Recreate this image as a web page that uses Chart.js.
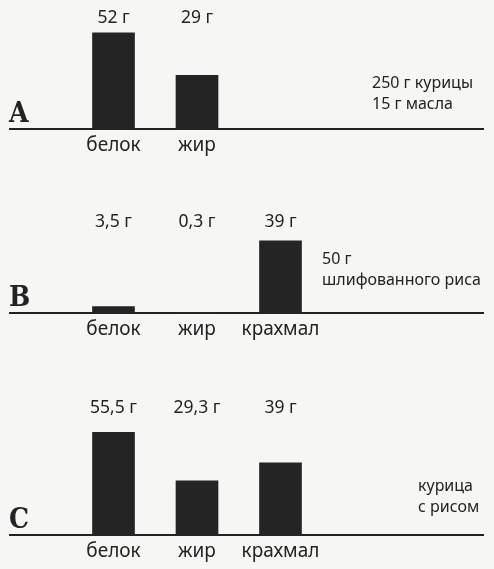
<!DOCTYPE html>
<html>
<head>
<meta charset="utf-8">
<script src="https://cdn.jsdelivr.net/npm/chart.js@4/dist/chart.umd.min.js"></script>
<style>
  html, body { margin: 0; padding: 0; background: #f6f6f4; }
  #page { position: relative; width: 494px; height: 569px; overflow: hidden; }
  .panel { position: absolute; left: 0; width: 494px; }
</style>
</head>
<body>
<div id="page">
  <div class="panel" style="top:0;height:190px"><canvas id="chartA"></canvas></div>
  <div class="panel" style="top:190px;height:190px"><canvas id="chartB"></canvas></div>
  <div class="panel" style="top:380px;height:189px"><canvas id="chartC"></canvas></div>
</div>
<script>
// Nutrients per portion, grams
const categories = ['белок', 'жир', 'крахмал'];
const panelLetters = ['A', 'B', 'C'];
const valuesA = [52, 29];
const valuesB = [3.5, 0.3, 39];
const valuesC = [55.5, 29.3, 39];
const notesA = ['250 г курицы', '15 г масла'];
const notesB = ['50 г', 'шлифованного риса'];
const notesC = ['курица', 'с рисом'];

const INK = '#232323';
const SANS = '"Noto Sans", "Open Sans", sans-serif';
const Y_MAX = 60;          // common vertical scale for all three panels
const PLOT_H = 111;        // chart-area height in px
const SLOT = 83.5;         // width of one category slot in px
const FIRST_CENTER = 113.5;

function fmt(v) {
  return String(v).replace('.', ',') + ' г';
}

// Long baseline running under the whole panel
const baseline = {
  id: 'baseline',
  beforeDatasetsDraw(chart) {
    const { ctx, scales } = chart;
    const y = scales.y.getPixelForValue(0);
    ctx.save();
    ctx.strokeStyle = INK;
    ctx.lineWidth = 2;
    ctx.beginPath();
    ctx.moveTo(9, y);
    ctx.lineTo(484, y);
    ctx.stroke();
    ctx.restore();
  }
};

// Value captions, panel letter and side note
const annotations = {
  id: 'annotations',
  afterDatasetsDraw(chart, args, opts) {
    const { ctx, chartArea, scales } = chart;
    const x = scales.x;
    ctx.save();
    ctx.fillStyle = INK;
    ctx.textAlign = 'center';
    ctx.textBaseline = 'middle';
    ctx.font = '17.5px ' + SANS;
    chart.data.datasets[0].data.forEach((v, i) => {
      ctx.fillText(fmt(v), x.getPixelForValue(i), opts.valueY);
    });
    ctx.font = 'bold 28px "DejaVu Serif Condensed", "DejaVu Serif", serif';
    ctx.textAlign = 'left';
    ctx.textBaseline = 'alphabetic';
    ctx.fillText(opts.letter, 9, chartArea.bottom - 7);
    ctx.font = '16px ' + SANS;
    ctx.textBaseline = 'middle';
    opts.note.forEach((line, i) => {
      ctx.fillText(line, opts.noteX, opts.noteY + i * 21);
    });
    ctx.restore();
  }
};

function makePanel(id, values, letter, note, geom) {
  const canvas = document.getElementById(id);
  const h = canvas.parentNode.clientHeight;
  const left = FIRST_CENTER - SLOT / 2;
  const right = 494 - (left + values.length * SLOT);
  return new Chart(canvas, {
    type: 'bar',
    data: {
      labels: categories.slice(0, values.length),
      datasets: [{
        data: values,
        backgroundColor: '#242424',
        borderWidth: 0,
        barThickness: 42
      }]
    },
    options: {
      responsive: true,
      maintainAspectRatio: false,
      animation: false,
      events: [],
      layout: { padding: { top: geom.baseline - PLOT_H, left: left, right: right, bottom: 0 } },
      plugins: {
        legend: { display: false },
        tooltip: { enabled: false },
        annotations: { letter, note, valueY: geom.valueY, noteX: geom.noteX, noteY: geom.noteY }
      },
      scales: {
        x: {
          grid: { display: false, drawTicks: false },
          border: { display: false },
          afterFit(scale) { scale.height = h - geom.baseline; },
          ticks: {
            color: INK,
            padding: 5,
            font: { family: SANS, size: 19 },
            maxRotation: 0,
            autoSkip: false
          }
        },
        y: { display: false, min: 0, max: Y_MAX }
      }
    },
    plugins: [baseline, annotations]
  });
}

makePanel('chartA', valuesA, panelLetters[0], notesA, { baseline: 129, valueY: 18, noteX: 372, noteY: 83 });
makePanel('chartB', valuesB, panelLetters[1], notesB, { baseline: 123, valueY: 32, noteX: 322, noteY: 69 });
makePanel('chartC', valuesC, panelLetters[2], notesC, { baseline: 155, valueY: 28, noteX: 418, noteY: 106 });
</script>
</body>
</html>
